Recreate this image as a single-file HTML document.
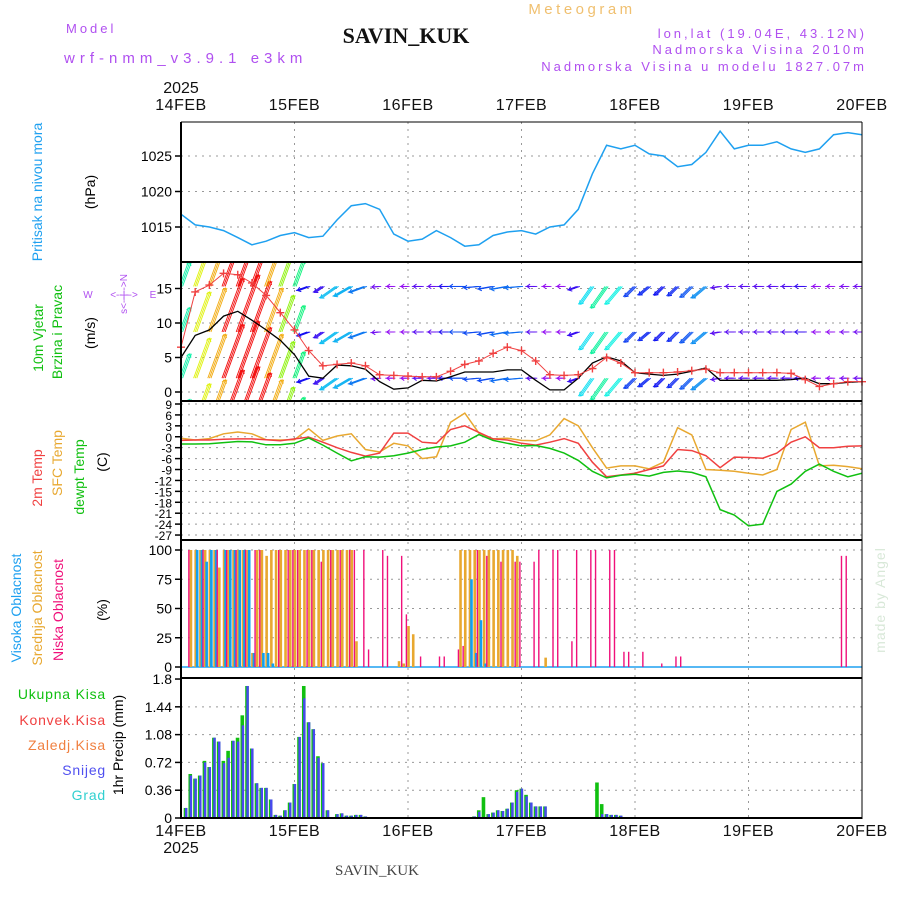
<!DOCTYPE html>
<html><head><meta charset="utf-8"><style>
html,body{margin:0;padding:0;background:#fff;}
svg{display:block;font-family:"Liberation Sans",sans-serif;}
</style></head><body>
<svg id="chart" width="900" height="900" viewBox="0 0 900 900" xmlns="http://www.w3.org/2000/svg">
<rect x="0" y="0" width="900" height="900" fill="#fff"/>
<text x="582" y="14" fill="#f0c070" font-size="15" letter-spacing="3.5" text-anchor="middle">Meteogram</text>
<text x="406" y="43" font-family="Liberation Serif,serif" font-weight="bold" font-size="22" text-anchor="middle" fill="#111">SAVIN_KUK</text>
<text x="66" y="33" fill="#b050f0" font-size="13" letter-spacing="3">Model</text>
<text x="64" y="63" fill="#b050f0" font-size="15" letter-spacing="5">wrf-nmm_v3.9.1 e3km</text>
<text x="867" y="38" fill="#b050f0" font-size="13" letter-spacing="3" text-anchor="end">lon,lat (19.04E, 43.12N)</text>
<text x="867" y="54" fill="#b050f0" font-size="13" letter-spacing="3" text-anchor="end">Nadmorska Visina 2010m</text>
<text x="867" y="71" fill="#b050f0" font-size="13" letter-spacing="3" text-anchor="end">Nadmorska Visina u modelu 1827.07m</text>
<text x="377" y="875" font-family="Liberation Serif,serif" font-size="15" text-anchor="middle" fill="#444">SAVIN_KUK</text>
<text transform="translate(885,600) rotate(-90)" fill="#d8e8d8" font-size="14" text-anchor="middle" letter-spacing="1">made by Angel</text>

<g font-size="14">
<text transform="translate(42,192) rotate(-90)" fill="#1ea0f0" text-anchor="middle">Pritisak na nivou mora</text>
<text transform="translate(95,192) rotate(-90)" fill="#000" text-anchor="middle">(hPa)</text>
<text transform="translate(43,338) rotate(-90)" fill="#10c010" text-anchor="middle">10m Vjetar</text>
<text transform="translate(62,332) rotate(-90)" fill="#10c010" text-anchor="middle">Brzina i Pravac</text>
<text transform="translate(95,333) rotate(-90)" fill="#000" text-anchor="middle">(m/s)</text>
<text transform="translate(42,478) rotate(-90)" fill="#f04040" text-anchor="middle">2m Temp</text>
<text transform="translate(62,463) rotate(-90)" fill="#e8a830" text-anchor="middle">SFC Temp</text>
<text transform="translate(84,477) rotate(-90)" fill="#10c010" text-anchor="middle">dewpt Temp</text>
<text transform="translate(107,462) rotate(-90)" fill="#000" text-anchor="middle">(C)</text>
<text transform="translate(21,608) rotate(-90)" fill="#1ea0f0" text-anchor="middle">Visoka Oblacnost</text>
<text transform="translate(42,608) rotate(-90)" fill="#e8a830" text-anchor="middle">Srednja Oblacnost</text>
<text transform="translate(63,610) rotate(-90)" fill="#f0107a" text-anchor="middle">Niska Oblacnost</text>
<text transform="translate(107,610) rotate(-90)" fill="#000" text-anchor="middle">(%)</text>
<text transform="translate(123,745) rotate(-90)" fill="#000" text-anchor="middle">1hr Precip (mm)</text>
</g>
<g font-size="14" text-anchor="end" letter-spacing="0.8">
<text x="106" y="699" fill="#10c010">Ukupna Kisa</text>
<text x="106" y="725" fill="#f04040">Konvek.Kisa</text>
<text x="106" y="750" fill="#f08040">Zaledj.Kisa</text>
<text x="106" y="775" fill="#5050f0">Snijeg</text>
<text x="106" y="800" fill="#30d0d0">Grad</text>
</g>
<g fill="#b050f0" font-size="10">
<text x="88" y="298" text-anchor="middle">W</text>
<text x="153" y="298" text-anchor="middle">E</text>
<text x="124" y="298" text-anchor="middle">&lt;--|--&gt;</text>
<text transform="translate(127,294) rotate(-90)" text-anchor="middle">s&lt;--|--&gt;N</text>
</g>
<g id="plot"></g>
</svg>
<script>
// ---- data (3-hourly, hour 0..144 from 14FEB 00UTC) ----
const hours3 = [0,3,6,9,12,15,18,21,24,27,30,33,36,39,42,45,48,51,54,57,60,63,66,69,72,75,78,81,84,87,90,93,96,99,102,105,108,111,114,117,120,123,126,129,132,135,138,141,144];
const dayLabels = ["14FEB","15FEB","16FEB","17FEB","18FEB","19FEB","20FEB"];
const pressure = [1016.8,1015.3,1015.0,1014.5,1013.5,1012.5,1013.0,1013.8,1014.2,1013.5,1013.7,1016.0,1018.0,1018.3,1017.5,1014.0,1013.0,1013.3,1014.5,1013.5,1012.3,1012.5,1013.8,1014.3,1014.5,1014.0,1015.0,1015.3,1017.5,1022.5,1026.5,1026.0,1026.5,1025.3,1025.0,1023.5,1023.8,1025.5,1028.5,1026.0,1026.5,1026.5,1027.0,1026.0,1025.5,1026.0,1028.0,1028.3,1028.0];
const windSpeed = [5,8.2,9,11,11.7,10.4,9,7.5,5.4,2.3,2,3.9,3.8,3.3,1.5,0.4,0.6,1.7,1.6,2.2,2.9,2.9,2.9,3.2,3.2,1.7,0.3,0.3,2,4.2,5.1,4.5,2.8,2.6,2.4,2.6,3,3.5,1.7,1.7,1.7,1.7,1.7,1.8,2,1.2,1.2,1.4,1.5];
const windGust = [6.5,14.5,15.5,17.2,17,15.8,14,11.5,9,6,3.8,4,4.2,3.8,2.5,2.4,2.3,2.2,2.2,3,4,4.5,5.6,6.5,6,4.5,2.5,2.4,2.5,3.4,5,4.2,2.8,2.8,2.8,2.9,3.1,3.3,2.8,2.8,2.8,2.8,2.8,2.7,1.8,0.8,1.2,1.5,1.5];
// direction the arrow points (deg, 0=E, 90=N)
const windDir = [70,70,70,70,70,70,70,70,70,200,215,215,210,200,185,180,180,180,180,180,180,185,190,190,185,180,180,180,200,235,235,230,225,220,225,225,225,220,190,180,180,180,180,180,180,180,180,180,180];
const temp2m = [-1,-0.9,-0.9,-0.7,-0.6,-0.6,-0.8,-1.1,-0.6,-0.1,-1.5,-3,-4.3,-5.3,-4.5,1,1,-1.5,-1.8,2,3,1.2,-0.6,-0.9,-1.8,-2.3,-1.5,-0.5,-1.8,-7,-11,-10.5,-10,-9,-8,-3.5,-3.8,-5.2,-8.5,-5.6,-5.7,-5.9,-4.5,-1.5,0,-3,-3,-2.6,-2.5];
const tempSfc = [-0.4,-0.9,-0.5,0.8,1.3,0.8,-0.8,-0.9,-0.8,2.2,-1.0,0.2,0.8,-3.5,-4.2,-1.8,-2.5,-6,-5.5,4,6.5,1,-0.6,-0.4,-1,-1.1,0.5,5,3,-3,-8.6,-8,-8,-8.8,-7,2.5,0.5,-9,-9.2,-9.5,-10,-10.5,-9,2,4,-8,-7.8,-8.2,-8.8];
const tempDew = [-2,-2,-1.9,-1.6,-1.3,-1.4,-2.2,-2.2,-1.8,-0.3,-2.3,-4.5,-6.6,-5.5,-5.6,-5.2,-4.5,-3.5,-2.8,-2.5,-1.5,0.6,-1,-1.8,-2.5,-2.4,-3.2,-4.5,-6.5,-9.5,-11.3,-10.6,-10.3,-10.8,-9.8,-9.4,-9.8,-11,-20,-21.5,-24.5,-24,-15,-13,-9.5,-7.5,-9.5,-11,-10];
// cloud cover (%), sparse hourly
const highHours = [3,4,5,6,7,9,10,11,12,13,14,15,17,18,19,61,62,63,64];
const highVals  = [100,100,90,100,100,100,100,100,100,100,100,12,12,12,3,75,12,40,3];
const midHours = [2,3,4,5,6,7,8,9,10,11,12,13,14,15,16,17,18,19,20,21,22,23,24,25,26,27,28,29,30,31,32,33,34,35,36,37,46,47,48,49,59,60,61,62,63,64,65,66,67,68,69,70,71,77];
const midVals  = [100,100,100,100,100,100,85,100,100,100,100,100,100,12,100,100,95,100,100,100,100,100,100,100,100,100,100,100,100,100,100,100,100,100,100,22,5,3,35,28,100,100,100,100,100,100,100,100,100,100,100,100,95,8];
const lowHours = [2,5,8,10,12,14,16,17,21,23,24,25,27,28,30,32,34,36,37,39,40,43,44,47,48,51,55,56,59,60,63,65,68,71,72,75,76,79,80,83,84,87,88,91,92,94,95,98,102,105,106,140,141];
const lowVals  = [100,100,100,100,100,100,100,100,100,100,100,100,100,100,90,100,100,100,100,100,15,100,95,95,45,9,9,9,15,18,100,95,90,90,90,90,100,100,100,22,100,100,100,100,100,13,13,13,3,9,9,95,95];
// precipitation (mm/h)
const precipHours = [1,2,3,4,5,6,7,8,9,10,11,12,13,14,15,16,17,18,19,20,21,22,23,24,25,26,27,28,29,30,31,33,34,35,36,37,38,39,62,63,64,65,66,67,68,69,70,71,72,73,74,75,76,77,88,89,90,91,92,93];
const precipTotal = [0.13,0.57,0.51,0.55,0.74,0.66,1.04,0.99,0.74,0.87,1.0,1.04,1.33,1.71,0.9,0.45,0.39,0.39,0.24,0.04,0.03,0.1,0.2,0.44,1.05,1.71,1.24,1.15,0.8,0.71,0.1,0.05,0.06,0.03,0.03,0.04,0.04,0.02,0.02,0.1,0.27,0.05,0.07,0.1,0.09,0.12,0.2,0.36,0.38,0.3,0.2,0.15,0.15,0.15,0.46,0.18,0.05,0.04,0.04,0.03];
const precipSnow  = [0.13,0.55,0.51,0.55,0.72,0.66,1.04,0.99,0.71,0.78,1.0,0.99,1.2,1.71,0.9,0.45,0.39,0.39,0.24,0.04,0.03,0.1,0.2,0.44,1.05,1.55,1.24,1.15,0.78,0.71,0.1,0.05,0.06,0.03,0.03,0.04,0.04,0.02,0.02,0.08,0.0,0.05,0.07,0.1,0.09,0.12,0.2,0.34,0.38,0.28,0.2,0.15,0.15,0.15,0.0,0.05,0.05,0.04,0.04,0.03];
const pressTicks = [1015,1020,1025];
const windTicks = [0,5,10,15];
const tempTicks = [9,6,3,0,-3,-6,-9,-12,-15,-18,-21,-24,-27];
const cloudTicks = [0,25,50,75,100];
const precipTicks = [0,0.36,0.72,1.08,1.44,1.8];
const windRows = [2.0,8.7,15.3,-4.6];

// ---- scales ----
const X0=181, X1=862;
const xH = h => X0 + h*(X1-X0)/144;
const yP = v => 156 + (1025-v)*7.1;
const yW = v => 392 - v*6.9;
const yT = v => 404 + (9-v)*3.64;
const yC = v => 667 - v*1.17;
const yR = v => 818 - v*77.2;
const panels = [[122,262],[262,401],[401,540],[540,678],[678,818]];

const NS="http://www.w3.org/2000/svg";
const plot=document.getElementById('plot');
function mk(tag, attrs, parent){const e=document.createElementNS(NS,tag);for(const k in attrs)e.setAttribute(k,attrs[k]);(parent||plot).appendChild(e);return e;}
function grp(name){const g=document.createElementNS(NS,'g');


plot.appendChild(g);return g;}

const defs=mk('defs',{});
panels.forEach((p,i)=>{const c=mk('clipPath',{id:'clip'+i},defs);mk('rect',{x:X0,y:p[0],width:X1-X0,height:p[1]-p[0]},c);});

const grid=grp('grid-lines');
for(let d=0; d<=6; d++){
  const x=xH(d*24);
  const l=mk('line',{x1:x,y1:122,x2:x,y2:818,stroke:'#999','stroke-dasharray':'2,5','stroke-width':1},grid);
  
  
}
function hgrid(ticks, fy, name){
  ticks.forEach(t=>{const y=fy(t);
    const l=mk('line',{x1:X0,y1:y,x2:X1,y2:y,stroke:'#999','stroke-dasharray':'2,5','stroke-width':1},grid);
    
    
  });
}
hgrid(pressTicks,yP,'pressure-gridline');
hgrid(windTicks,yW,'wind-gridline');
hgrid(tempTicks,yT,'temp-gridline');
hgrid(cloudTicks.slice(1),yC,'cloud-gridline');
hgrid(precipTicks.slice(1,5),yR,'precip-gridline');

const axes=grp('y-axes');
function yaxis(ticks, fy, fmt, fs){
  ticks.forEach(t=>{const y=fy(t);
    const tk=mk('line',{x1:X0-6,y1:y,x2:X0,y2:y,stroke:'#000','stroke-width':1.5},axes);
    
    
    const tx=mk('text',{x:X0-9,y:y+5,'font-size':fs,'text-anchor':'end',fill:'#000'},axes);
    
    
    tx.textContent=fmt(t);
  });
}
yaxis(pressTicks,yP,t=>String(t),14);
yaxis(windTicks,yW,t=>String(t),14);
yaxis(tempTicks,yT,t=>String(t),12);
yaxis(cloudTicks,yC,t=>String(t),14);
yaxis(precipTicks,yR,t=>String(t),14);

const xl=grp('x-axis-labels');
dayLabels.forEach((lab,i)=>{
  [110,836].forEach(y=>{
    const t=mk('text',{x:xH(i*24),y:y,'font-size':16,'text-anchor':'middle',fill:'#111','letter-spacing':0.5},xl);
    
    
    t.textContent=lab;
  });
});
[93,853].forEach(y=>{
  const t=mk('text',{x:181,y:y,'font-size':16,'text-anchor':'middle',fill:'#111'},xl);
  
  
  t.textContent='2025';
});

function line(vals, fy, color, name, clip, w){
  const d=vals.map((v,i)=>(i?'L':'M')+xH(hours3[i]).toFixed(1)+' '+fy(v).toFixed(1)).join(' ');
  const p=mk('path',{d:d,fill:'none',stroke:color,'stroke-width':w||1.5,'clip-path':'url(#clip'+clip+')'});
  
  
  return p;
}
line(pressure,yP,'#1ea0f0','pressure-line',0,1.5);

const wb=grp('wind-arrows');
wb.setAttribute('clip-path','url(#clip1)');
function spdColor(s){const h=Math.max(0,Math.min(275,275-(s-1.2)*30));return 'hsl('+h+',90%,50%)';}
windRows.forEach(row=>{
  hours3.forEach((h,i)=>{
    const s=windSpeed[i], a=windDir[i]*Math.PI/180, L=Math.max(7,s*5.2);
    const x1=xH(h), y1=yW(row), x2=x1+L*Math.cos(a), y2=y1-L*Math.sin(a);
    const c=spdColor(s);
    for(let k=-1;k<=1;k++){
      const dx=k*4.7/3;
      const l=mk('line',{x1:x1+dx,y1:y1,x2:x2+dx,y2:y2,stroke:c,'stroke-width':0.9},wb);
      
      
    }
    const b=a+Math.PI*0.8, b2=a-Math.PI*0.8;
    const hd=mk('path',{d:`M${x2+4*Math.cos(b)} ${y2-4*Math.sin(b)} L${x2} ${y2} L${x2+4*Math.cos(b2)} ${y2-4*Math.sin(b2)}`,fill:'none',stroke:c,'stroke-width':1},wb);
    
    
  });
});
line(windSpeed,yW,'#000','wind-speed-line',1,1.3);
line(windGust,yW,'#f04040','wind-gust-line',1,1);
const gm=grp('wind-gust-markers');
hours3.forEach((h,i)=>{
  const x=xH(h), y=yW(windGust[i]);
  if(y<262||y>401) return;
  const p=mk('path',{d:`M${x-4} ${y} L${x+4} ${y} M${x} ${y-4} L${x} ${y+4}`,stroke:'#f04040','stroke-width':1.4},gm);
  
  
});

line(tempSfc,yT,'#e8a830','sfc-temp-line',2,1.5);
line(temp2m,yT,'#f04040','2m-temp-line',2,1.5);
line(tempDew,yT,'#10c010','dewpoint-line',2,1.5);

const cb=grp('cloud-bars');
mk('line',{x1:X0,y1:667,x2:X1,y2:667,stroke:'#1ea0f0','stroke-width':1.5},cb);
function cloudBars(hrs, vals, color, off, w, name){
  hrs.forEach((h,i)=>{
    const x=xH(h)+off, y=yC(vals[i]);
    const r=mk('rect',{x:x-w/2,y:y,width:w,height:667-y,fill:color},cb);
    
    
  });
}
cloudBars(midHours,midVals,'#e8a830',0.5,2.6,'mid-cloud-bar');
cloudBars(highHours,highVals,'#10a0f0',2.0,2.6,'high-cloud-bar');
cloudBars(lowHours,lowVals,'#f0107a',-1.6,1.4,'low-cloud-bar');

const pb=grp('precip-bars');
precipHours.forEach((h,i)=>{
  const x=xH(h);
  const yg=yR(precipTotal[i]);
  const g=mk('rect',{x:x-2,y:yg,width:3.6,height:818-yg,fill:'#10c010'},pb);
  
  
  if(precipSnow[i]>0){
    const yb=yR(precipSnow[i]);
    const b=mk('rect',{x:x-0.8,y:yb,width:2.4,height:818-yb,fill:'#4848f0'},pb);
    
    
  }
});

const fr=grp('panel-frames');
mk('line',{x1:X0,y1:122,x2:X1,y2:122,stroke:'#000','stroke-width':1},fr);
[262,401,540,678,818].forEach(y=>mk('line',{x1:X0,y1:y,x2:X1,y2:y,stroke:'#000','stroke-width':2},fr));
mk('line',{x1:X0,y1:122,x2:X0,y2:819,stroke:'#000','stroke-width':2},fr);
mk('line',{x1:X1,y1:122,x2:X1,y2:819,stroke:'#000','stroke-width':1},fr);
</script>
</body></html>
